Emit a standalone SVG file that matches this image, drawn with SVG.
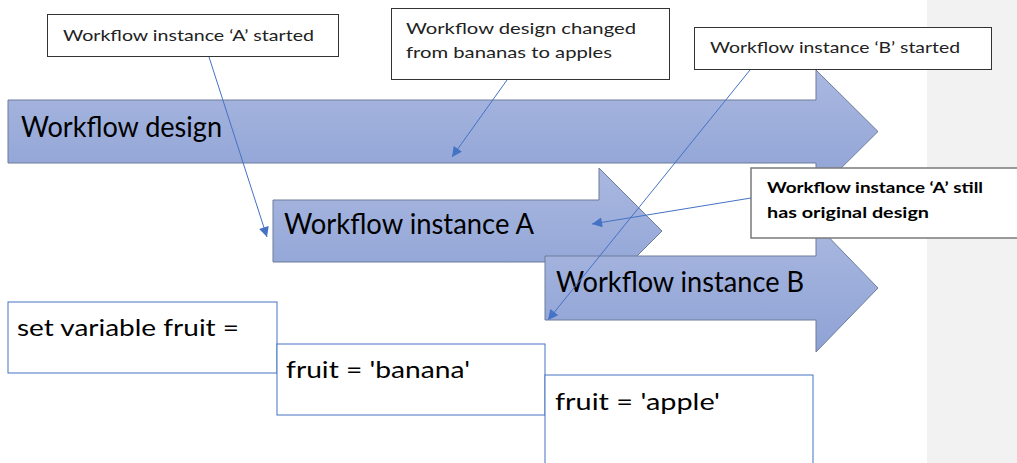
<svg xmlns="http://www.w3.org/2000/svg" width="1017" height="463" viewBox="0 0 1017 463">
<defs>
<style>
.big{font-family:Lato,"Liberation Sans",sans-serif;font-size:29px;fill:#000}
.code{font-family:Lato,"Liberation Sans",sans-serif;font-size:23px;fill:#000}
.call{font-family:Lato,"Liberation Sans",sans-serif;font-size:16px;fill:#222}
.callb{font-family:Lato,"Liberation Sans",sans-serif;font-size:16px;font-weight:bold;fill:#000}
.arrow{fill:url(#g);stroke:#6d7d9c;stroke-width:1}
.box{fill:#fff;stroke:#333;stroke-width:1}
.cbox{fill:#fff;stroke:#4472c4;stroke-width:1}
.con{stroke:#4472c4;stroke-width:1;fill:none;marker-end:url(#ah)}
</style>
<linearGradient id="g" x1="0" y1="0" x2="0" y2="1">
<stop offset="0" stop-color="#aab8e0"/>
<stop offset="1" stop-color="#8ea2d5"/>
</linearGradient>
<marker id="ah" viewBox="0 0 10 10" refX="10" refY="5" markerWidth="12" markerHeight="10" markerUnits="userSpaceOnUse" orient="auto">
<path d="M0,0 L10,5 L0,10 z" fill="#4472c4"/>
</marker>
</defs>
<rect x="927" y="0" width="90" height="463" fill="#f2f2f2"/>

<g id="design">
<path class="arrow" d="M8,100 H816 V70 L878,131.5 L816,193 V163 H8 Z"/>
<text class="big" x="21" y="137" textLength="201" lengthAdjust="spacingAndGlyphs">Workflow design</text>
</g>
<g id="instanceA">
<path class="arrow" d="M273,200 H599 V168 L662,231 L599,294 V262 H273 Z"/>
<text class="big" x="284" y="234" textLength="250" lengthAdjust="spacingAndGlyphs">Workflow instance A</text>
</g>
<g id="instanceB">
<path class="arrow" d="M545,256 H816 V224 L878,288 L816,352 V320 H545 Z"/>
<text class="big" x="556" y="292" textLength="248" lengthAdjust="spacingAndGlyphs">Workflow instance B</text>
</g>

<g id="setvar">
<rect class="cbox" x="8" y="302" width="269" height="71"/>
<text class="code" x="17" y="336" textLength="222" lengthAdjust="spacingAndGlyphs">set variable fruit =</text>
</g>
<g id="banana">
<rect class="cbox" x="277" y="344" width="268" height="71"/>
<text class="code" x="286" y="378" textLength="184" lengthAdjust="spacingAndGlyphs">fruit = 'banana'</text>
</g>
<g id="apple">
<rect class="cbox" x="545" y="375" width="268" height="100"/>
<text class="code" x="555" y="410" textLength="165" lengthAdjust="spacingAndGlyphs">fruit = 'apple'</text>
</g>

<g id="calloutA">
<rect class="box" x="47.5" y="14.5" width="291" height="42"/>
<text class="call" x="63" y="41" textLength="251" lengthAdjust="spacingAndGlyphs">Workflow instance ‘A’ started</text>
</g>
<g id="calloutChange">
<rect class="box" x="391.5" y="8.5" width="278" height="71"/>
<text class="call" x="406" y="34" textLength="230" lengthAdjust="spacingAndGlyphs">Workflow design changed</text>
<text class="call" x="406" y="58" textLength="206" lengthAdjust="spacingAndGlyphs">from bananas to apples</text>
</g>
<g id="calloutB">
<rect class="box" x="694.5" y="27.5" width="297" height="42"/>
<text class="call" x="710" y="53" textLength="250" lengthAdjust="spacingAndGlyphs">Workflow instance ‘B’ started</text>
</g>
<g id="calloutOriginal">
<rect x="751" y="168" width="280" height="70" fill="#fff" stroke="#7a7a7a" stroke-width="1.5"/>
<text class="callb" x="767" y="193" textLength="216" lengthAdjust="spacingAndGlyphs">Workflow instance ‘A’ still</text>
<text class="callb" x="767" y="218" textLength="162" lengthAdjust="spacingAndGlyphs">has original design</text>
</g>

<g id="connectors">
<line class="con" x1="209" y1="57" x2="267" y2="237"/>
<line class="con" x1="507" y1="80" x2="452" y2="157"/>
<line class="con" x1="750" y1="70" x2="548" y2="320"/>
<line class="con" x1="751" y1="198" x2="592" y2="224"/>
</g>
</svg>
